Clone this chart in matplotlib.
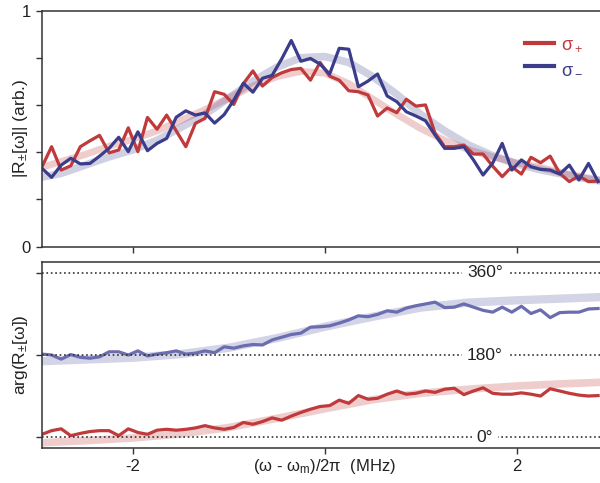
import numpy as np
import matplotlib
matplotlib.use("Agg")
import matplotlib.pyplot as plt
from matplotlib.lines import Line2D

plt.rcParams['font.family'] = ['Liberation Sans', 'DejaVu Sans']
plt.rcParams['mathtext.fontset'] = 'custom'
plt.rcParams['mathtext.rm'] = 'Liberation Sans'
plt.rcParams['mathtext.it'] = 'Liberation Sans:italic'
plt.rcParams['mathtext.default'] = 'regular'

# ---------------- data ----------------
freq = np.round(np.arange(-2.95, 2.90, 0.1), 2)  # detuning (MHz), 59 points

mag_plus = [0.338, 0.423, 0.324, 0.342, 0.423, 0.448, 0.471, 0.397, 0.409, 0.503,
            0.402, 0.547, 0.497, 0.557, 0.490, 0.423, 0.522, 0.543, 0.656, 0.645,
            0.602, 0.690, 0.744, 0.680, 0.716, 0.736, 0.750, 0.755, 0.705, 0.780,
            0.722, 0.705, 0.660, 0.656, 0.642, 0.553, 0.587, 0.567, 0.624, 0.595,
            0.600, 0.480, 0.423, 0.423, 0.430, 0.392, 0.392, 0.341, 0.296, 0.338,
            0.307, 0.378, 0.355, 0.383, 0.310, 0.275, 0.299, 0.275, 0.278]

mag_minus = [0.331, 0.293, 0.345, 0.374, 0.350, 0.352, 0.383, 0.416, 0.463, 0.402,
             0.486, 0.406, 0.437, 0.458, 0.548, 0.575, 0.557, 0.566, 0.523, 0.559,
             0.620, 0.692, 0.654, 0.713, 0.725, 0.795, 0.873, 0.785, 0.797, 0.773,
             0.731, 0.840, 0.836, 0.677, 0.701, 0.731, 0.638, 0.614, 0.571, 0.553,
             0.533, 0.472, 0.416, 0.416, 0.423, 0.367, 0.303, 0.353, 0.437, 0.324,
             0.367, 0.338, 0.327, 0.324, 0.307, 0.345, 0.282, 0.352, 0.275]

phase_plus = [6, 14, 18, 3, 8, 12, 14, 14, 3, 18, 10, 6, 15, 17, 15,
              17, 20, 25, 20, 17, 21, 32, 28, 34, 42, 37, 46, 54, 61, 67,
              69, 81, 74, 91, 83, 85, 94, 101, 94, 96, 101, 98, 105, 107, 93,
              101, 108, 96, 94, 94, 97, 94, 90, 106, 101, 96, 92, 90, 91]

phase_minus = [182, 180, 171, 181, 175, 173, 176, 187, 187, 180, 189, 178, 182, 185, 189,
               182, 184, 189, 185, 198, 195, 200, 203, 202, 213, 219, 225, 228, 241, 242,
               244, 250, 257, 266, 264, 269, 277, 274, 283, 288, 292, 296, 284, 285, 292,
               285, 278, 274, 285, 274, 287, 271, 279, 262, 273, 274, 274, 281, 282]

# model (fit) curves
fit_freq_mag = [-3.0, -2.75, -2.5, -2.25, -2.0, -1.75, -1.5, -1.25, -1.0, -0.75, -0.5, -0.25, 0.0,
                0.25, 0.5, 0.75, 1.0, 1.25, 1.5, 1.75, 2.0, 2.25, 2.5, 2.75, 3.0]
fit_mag_plus = [0.33, 0.36, 0.39, 0.425, 0.455, 0.49, 0.535, 0.58, 0.63, 0.68, 0.72, 0.742, 0.735,
                0.69, 0.625, 0.56, 0.50, 0.45, 0.41, 0.38, 0.355, 0.335, 0.31, 0.29, 0.275]
fit_mag_minus = [0.29, 0.31, 0.345, 0.38, 0.41, 0.45, 0.505, 0.56, 0.63, 0.70, 0.76, 0.80, 0.805,
                 0.78, 0.72, 0.645, 0.56, 0.49, 0.43, 0.385, 0.35, 0.325, 0.305, 0.285, 0.27]

fit_freq_ph = [-3.0, -2.5, -2.0, -1.5, -1.0, -0.5, 0.0, 0.5, 1.0, 1.5, 2.0, 2.5, 3.0]
fit_ph_plus = [-13, -8, -2, 7, 21, 41, 62, 82, 96, 105, 112, 117, 121]
fit_ph_minus = [166, 170, 174, 182, 196, 217, 242, 264, 284, 295, 300, 304, 308]

mag_ticks = [0, 0.2, 0.4, 0.6, 0.8, 1.0]
mag_ticklabels = ['0', '', '', '', '', '1']
freq_ticks = [-2, 0, 2]
freq_ticklabels = ['-2', '', '2']
phase_lines = [0, 180, 360]
phase_labels = ['0°', '180°', '360°']

# ---------------- styling ----------------
RED = '#c0393b'
BLUE = '#3b3d8b'
BLUE_L = '#6a6db0'
DARK = '#333333'

fig = plt.figure(figsize=(6.0, 4.83), dpi=100)
ax1 = fig.add_axes([0.07, 0.4896, 0.93, 0.4886])
ax2 = fig.add_axes([0.07, 0.0725, 0.93, 0.385])

for ax in (ax1, ax2):
    ax.spines['right'].set_visible(False)
    for s in ('left', 'top', 'bottom'):
        ax.spines[s].set_color(DARK)
        ax.spines[s].set_linewidth(1.1)
        ax.spines[s].set_zorder(6)
    ax.tick_params(direction='out', length=4.5, width=1.0, color=DARK,
                   labelsize=12, labelcolor='#222222')
    ax.set_xlim(-2.95, 2.87)
    ax.set_xticks(freq_ticks)

# --- magnitude panel ---
ax1.plot(fit_freq_mag, fit_mag_plus, color=RED, alpha=0.25, lw=5, solid_capstyle='butt', zorder=1)
ax1.plot(fit_freq_mag, fit_mag_minus, color=BLUE, alpha=0.24, lw=5.5, solid_capstyle='butt', zorder=1)
ax1.plot(freq, mag_plus, color=RED, lw=2.3, zorder=3)
ax1.plot(freq, mag_minus, color=BLUE, lw=2.3, zorder=4)
ax1.set_ylim(0, 1)
ax1.set_yticks(mag_ticks)
ax1.set_yticklabels(mag_ticklabels)
ax1.tick_params(axis='x', labelbottom=False)
ax1.set_ylabel('|R$_{\\pm}$[ω]| (arb.)', fontsize=12.5, color='#222222')
ax1.yaxis.set_label_coords(-0.022, 0.5)

handles = [Line2D([], [], color=RED, lw=3), Line2D([], [], color=BLUE, lw=3)]
ax1.legend(handles, ['σ$_+$', 'σ$_-$'], loc='upper left', bbox_to_anchor=(0.865, 0.89),
           frameon=False, fontsize=13, handlelength=1.6, handletextpad=0.4,
           labelspacing=0.35, borderpad=0, borderaxespad=0, labelcolor='linecolor')

# --- phase panel ---
ax2.plot(fit_freq_ph, fit_ph_plus, color=RED, alpha=0.25, lw=5.5, solid_capstyle='butt', zorder=1)
ax2.plot(fit_freq_ph, fit_ph_minus, color=BLUE, alpha=0.22, lw=6, solid_capstyle='butt', zorder=1)
ax2.plot(freq, phase_plus, color=RED, lw=2.3, zorder=3)
ax2.plot(freq, phase_minus, color=BLUE_L, lw=2.3, zorder=3)
for yv, lab in zip(phase_lines, phase_labels):
    ax2.axhline(yv, color=DARK, lw=1.2, ls=':', zorder=4)
    ax2.text(1.67, yv, lab, ha='center', va='center', fontsize=12.5, color='#222222', zorder=5,
             clip_on=True,
             bbox=dict(boxstyle='square,pad=0.28', fc='white', ec='none'))
ax2.set_ylim(-24, 384)
ax2.set_yticks(phase_lines)
ax2.set_yticklabels([])
ax2.set_xticklabels(freq_ticklabels)
ax2.set_ylabel('arg(R$_{\\pm}$[ω])', fontsize=12.5, color='#222222')
ax2.yaxis.set_label_coords(-0.022, 0.5)
ax2.set_xlabel('(ω - ω$_m$)/2π  (MHz)', fontsize=12, color='#222222')
ax2.xaxis.set_label_coords(0.506, -0.05)

fig.savefig('out.png', dpi=100)
